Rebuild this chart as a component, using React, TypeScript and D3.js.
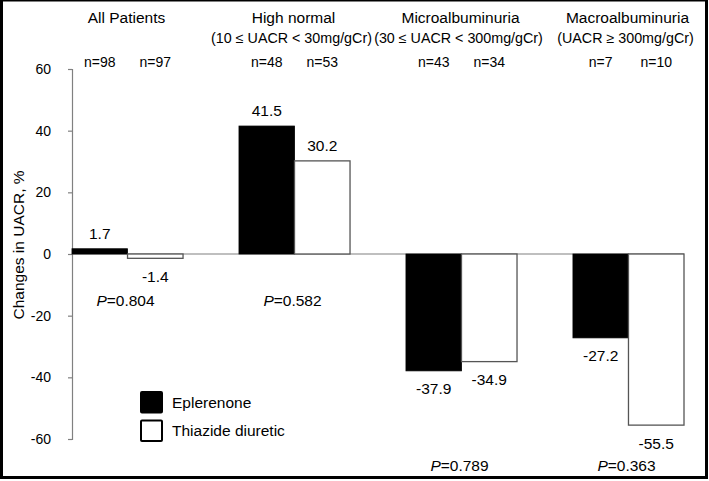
import React, { useEffect, useRef } from "react";
import * as d3 from "d3";

const groups = ["All Patients", "High normal", "Microalbuminuria", "Macroalbuminuria"];
const subtitles = ["", "(10 ≤ UACR < 30mg/gCr)", "(30 ≤ UACR < 300mg/gCr)", "(UACR ≥ 300mg/gCr)"];
const seriesNames = ["Eplerenone", "Thiazide diuretic"];
const eplerenone = [1.7, 41.5, -37.9, -27.2];
const thiazide = [-1.4, 30.2, -34.9, -55.5];
const nEplerenone = [98, 48, 43, 7];
const nThiazide = [97, 53, 34, 10];
const pValues = ["0.804", "0.582", "0.789", "0.363"];
const pLow = [false, false, true, true];
const yTicks = [-60, -40, -20, 0, 20, 40, 60];
const yLabel = "Changes in UACR, %";

const W = 709;
const H = 481;
const FONT = "'Liberation Sans', Arial, Helvetica, sans-serif";

export default function App() {
  const axisRef = useRef<SVGGElement>(null);

  const y = d3.scaleLinear().domain([-60, 60]).range([439, 69]);
  const x0 = d3.scaleBand<string>().domain(groups).range([72, 684]).paddingInner(0.335).paddingOuter(0);
  const x1 = d3.scaleBand<string>().domain(seriesNames).range([0, x0.bandwidth()]).padding(0);
  const values = [eplerenone, thiazide];
  const ns = [nEplerenone, nThiazide];

  useEffect(() => {
    if (!axisRef.current) return;
    const g = d3.select(axisRef.current);
    g.selectAll("*").remove();
    g.call(
      d3.axisLeft(y).tickValues(yTicks).tickSize(4).tickPadding(17).tickFormat((d: any) => String(d)) as any
    );
    g.select(".domain").attr("stroke", "#808080").attr("stroke-width", 1.2);
    g.selectAll(".tick line").attr("stroke", "#808080").attr("stroke-width", 1.2);
    g.selectAll(".tick text")
      .attr("fill", "#000")
      .style("font-family", FONT)
      .style("font-size", "14px");
  }, []);

  return (
    <svg width={W} height={H} style={{ position: "absolute", left: 0, top: 0, background: "#fff" }} fontFamily={FONT}>
      <rect x={0} y={0} width={W} height={H} fill="#fff" />
      {/* zero line */}
      <line x1={72} x2={684} y1={y(0)} y2={y(0)} stroke="#808080" strokeWidth={1.2} />
      <g ref={axisRef} transform={`translate(72,0)`} />
      {/* bars */}
      {groups.map((g, gi) => (
        <g key={g} transform={`translate(${x0(g)},0)`}>
          {seriesNames.map((s, si) => {
            const v = values[si][gi];
            const top = y(Math.max(0, v));
            const h = Math.abs(y(v) - y(0));
            return (
              <rect
                key={s}
                x={x1(s)}
                y={top}
                width={x1.bandwidth()}
                height={h}
                fill={si === 0 ? "#000" : "#fff"}
                stroke={si === 0 ? "#000" : "#555"}
                strokeWidth={si === 0 ? 0.8 : 1.3}
              />
            );
          })}
          {seriesNames.map((s, si) => {
            const v = values[si][gi];
            const cx = (x1(s) as number) + x1.bandwidth() / 2;
            const ty = v >= 0 ? y(v) - 10 : y(v) + 23.5;
            return (
              <text key={s + "v"} x={cx} y={ty} textAnchor="middle" fontSize={15.5} fill="#000">
                {v.toFixed(1)}
              </text>
            );
          })}
          {seriesNames.map((s, si) => {
            const cx = (x1(s) as number) + x1.bandwidth() / 2;
            return (
              <text key={s + "n"} x={cx} y={67} textAnchor="middle" fontSize={14} fill="#000">
                {`n=${ns[si][gi]}`}
              </text>
            );
          })}
          <text x={x0.bandwidth() / 2 - 1} y={22.5} textAnchor="middle" fontSize={15.5} fill="#000">
            {g}
          </text>
          {subtitles[gi] && (
            <text x={x0.bandwidth() / 2 - 3} y={43} textAnchor="middle" fontSize={14.3} fill="#000">
              {subtitles[gi]}
            </text>
          )}
          <text x={x0.bandwidth() / 2 - 2} y={pLow[gi] ? 470.5 : 305.5} textAnchor="middle" fontSize={15.5} fill="#000">
            <tspan fontStyle="italic">P</tspan>
            {`=${pValues[gi]}`}
          </text>
        </g>
      ))}
      {/* y label */}
      <text transform={`translate(24,245) rotate(-90)`} textAnchor="middle" fontSize={15.5} fill="#000">
        {yLabel}
      </text>
      {/* legend */}
      {seriesNames.map((s, si) => (
        <g key={s} transform={`translate(141,${392 + si * 28.5})`}>
          <rect x={0} y={0} width={21} height={20.5} fill={si === 0 ? "#000" : "#fff"} stroke="#000" strokeWidth={2} rx={1} />
          <text x={31} y={15.5} fontSize={15.5} fill="#000">
            {s}
          </text>
        </g>
      ))}
      {/* frame */}
      <rect x={1.5} y={0} width={705} height={477.5} fill="none" stroke="#000" strokeWidth={3} />
    </svg>
  );
}
